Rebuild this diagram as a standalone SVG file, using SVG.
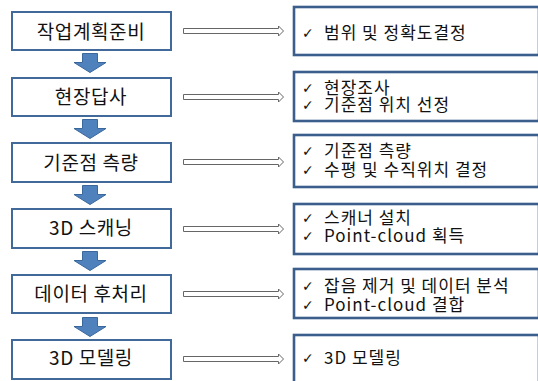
<svg xmlns="http://www.w3.org/2000/svg" width="538" height="381" viewBox="0 0 538 381">
<style>
.step rect{fill:#fff;stroke:#41699A;stroke-width:2}
.info rect{fill:#fff;stroke:#3B5E8C;stroke-width:2.6}
.lt{font-family:"Noto Sans CJK KR","Liberation Sans",sans-serif;font-size:19px;letter-spacing:0.6px;fill:#111;text-anchor:middle}
.rt{font-family:"Noto Sans CJK KR","Liberation Sans",sans-serif;font-size:17px;letter-spacing:1px;fill:#111}
.ck{font-family:"DejaVu Sans",sans-serif;font-size:14px;letter-spacing:0}
.down{fill:#4F81BD;stroke:#3A679C;stroke-width:1}
.right{fill:#fff;stroke:#666;stroke-width:1}
</style>
<rect width="538" height="381" fill="#fff"/>
<g id="connectors">
<path class="down" d="M82.5,53.5H97.5V62.5H106L90,72.5L74,62.5H82.5Z"/>
<path class="down" d="M82.5,119.5H97.5V128.5H106L90,138.5L74,128.5H82.5Z"/>
<path class="down" d="M82.5,185.5H97.5V194.5H106L90,204.5L74,194.5H82.5Z"/>
<path class="down" d="M82.5,251.5H97.5V260.5H106L90,270.5L74,260.5H82.5Z"/>
<path class="down" d="M82.5,317.5H97.5V326.5H106L90,336.5L74,326.5H82.5Z"/>
<path class="right" d="M183.5,28.5H278.5V26L283.5,31L278.5,36V33.5H183.5Z"/>
<path class="right" d="M183.5,94.5H278.5V92L283.5,97L278.5,102V99.5H183.5Z"/>
<path class="right" d="M183.5,159.5H278.5V157L283.5,162L278.5,167V164.5H183.5Z"/>
<path class="right" d="M183.5,226.5H278.5V224L283.5,229L278.5,234V231.5H183.5Z"/>
<path class="right" d="M183.5,291.5H278.5V289L283.5,294L278.5,299V296.5H183.5Z"/>
<path class="right" d="M183.5,356.5H278.5V354L283.5,359L278.5,364V361.5H183.5Z"/>
</g>
<g id="step1" class="step"><rect x="12" y="12" width="159" height="38"/><text class="lt" x="91" y="38.5">작업계획준비</text></g>
<g id="step2" class="step"><rect x="12" y="78" width="159" height="38"/><text class="lt" x="91" y="104">현장답사</text></g>
<g id="step3" class="step"><rect x="12" y="143" width="159" height="39"/><text class="lt" x="91" y="170">기준점 측량</text></g>
<g id="step4" class="step"><rect x="12" y="209" width="159" height="39"/><text class="lt" x="91" y="235">3D 스캐닝</text></g>
<g id="step5" class="step"><rect x="12" y="275" width="159" height="38"/><text class="lt" x="91" y="301">데이터 후처리</text></g>
<g id="step6" class="step"><rect x="12" y="340" width="159" height="39"/><text class="lt" x="91" y="365">3D 모델링</text></g>
<g id="info1" class="info"><rect x="294" y="7" width="245" height="48"/>
<text class="rt"><tspan class="ck" x="302" y="38">✓</tspan><tspan x="324" y="39">범위 및 정확도결정</tspan></text></g>
<g id="info2" class="info"><rect x="294" y="72" width="245" height="49"/>
<text class="rt"><tspan class="ck" x="302" y="93">✓</tspan><tspan x="324" y="94">현장조사</tspan><tspan class="ck" x="302" y="110">✓</tspan><tspan x="324" y="111">기준점 위치 선정</tspan></text></g>
<g id="info3" class="info"><rect x="294" y="135" width="245" height="52"/>
<text class="rt"><tspan class="ck" x="302" y="155.5">✓</tspan><tspan x="324" y="156.5">기준점 측량</tspan><tspan class="ck" x="302" y="175">✓</tspan><tspan x="324" y="176">수평 및 수직위치 결정</tspan></text></g>
<g id="info4" class="info"><rect x="294" y="204" width="245" height="50"/>
<text class="rt"><tspan class="ck" x="302" y="222.5">✓</tspan><tspan x="324" y="223.5">스캐너 설치</tspan><tspan class="ck" x="302" y="240.5">✓</tspan><tspan x="324" y="241.5">Point-cloud 획득</tspan></text></g>
<g id="info5" class="info"><rect x="294" y="269" width="245" height="49"/>
<text class="rt"><tspan class="ck" x="302" y="290.5">✓</tspan><tspan x="324" y="291.5">잡음 제거 및 데이터 분석</tspan><tspan class="ck" x="302" y="309.5">✓</tspan><tspan x="324" y="310.5">Point-cloud 결합</tspan></text></g>
<g id="info6" class="info"><rect x="294" y="335" width="245" height="52"/>
<text class="rt"><tspan class="ck" x="302" y="362.5">✓</tspan><tspan x="324" y="363.5">3D 모델링</tspan></text></g>
</svg>
